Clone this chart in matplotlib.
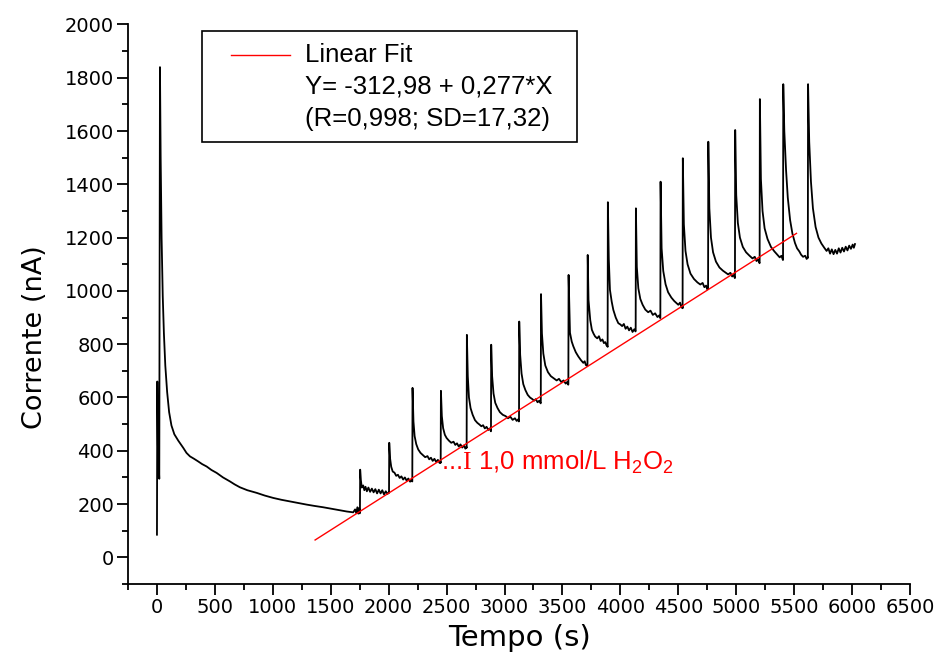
import numpy as np
import matplotlib
matplotlib.use("Agg")
import matplotlib.pyplot as plt
from matplotlib.ticker import MultipleLocator
from matplotlib.lines import Line2D
from matplotlib.patches import Rectangle

plt.rcParams['mathtext.fontset'] = 'custom'
plt.rcParams['mathtext.rm'] = 'Liberation Serif'
plt.rcParams['mathtext.default'] = 'regular'

# ---- chronoamperometric trace ----
time_s = [
    # initial transient and background decay
    0, 3, 8, 20, 26, 32, 40, 50, 60, 72, 88, 105, 125, 150, 184, 227, 255, 285, 320, 356,
    390, 429, 470, 515, 570, 630, 670, 716, 780, 861, 930, 1004, 1075, 1148, 1220, 1292,
    1360, 1435, 1510, 1580, 1640, 1694, 1710, 1720, 1730, 1738, 1745, 1750,
    # addition 1
    1752, 1754, 1760, 1768, 1780, 1790, 1800, 1812, 1825, 1840, 1855, 1870, 1885, 1900,
    1915, 1930, 1945, 1960, 1975, 1990, 2001,
    # addition 2
    2003, 2005, 2012, 2022, 2035, 2050, 2065, 2080, 2095, 2110, 2125, 2140, 2155, 2170,
    2185, 2200, 2203,
    # addition 3
    2204, 2206, 2214, 2224, 2238, 2255, 2275, 2295, 2315, 2335, 2350, 2365, 2380, 2395,
    2410, 2425, 2440, 2448,
    # addition 4
    2449, 2451, 2459, 2470, 2485, 2500, 2520, 2540, 2560, 2575, 2590, 2605, 2620, 2635,
    2650, 2662, 2672,
    # addition 5
    2673, 2675, 2683, 2693, 2707, 2725, 2745, 2765, 2785, 2800, 2815, 2830, 2845, 2860,
    2872, 2882,
    # addition 6
    2883, 2885, 2893, 2905, 2920, 2940, 2960, 2985, 3010, 3030, 3050, 3070, 3090, 3105,
    3118, 3124,
    # addition 7
    3125, 3127, 3135, 3147, 3162, 3180, 3200, 3220, 3240, 3255, 3270, 3285, 3300, 3312,
    # addition 8
    3313, 3315, 3323, 3335, 3352, 3375, 3400, 3425, 3450, 3470, 3490, 3510, 3528, 3540, 3550,
    # addition 9
    3551, 3553, 3565, 3580, 3594, 3615, 3637, 3660, 3680, 3692, 3702, 3715,
    # addition 10
    3716, 3718, 3725, 3740, 3754, 3768, 3782, 3800, 3815, 3830, 3845, 3858, 3870, 3880, 3889,
    # addition 11
    3890, 3892, 3900, 3910, 3925, 3939, 3960, 3982, 4000, 4015, 4030, 4045, 4060, 4075,
    4090, 4105, 4120, 4131,
    # addition 12
    4132, 4134, 4142, 4155, 4172, 4192, 4215, 4240, 4260, 4280, 4300, 4320, 4335, 4344,
    # addition 13
    4345, 4347, 4356, 4370, 4390, 4412, 4440, 4465, 4485, 4500, 4515, 4527, 4536,
    # addition 14
    4537, 4539, 4548, 4562, 4580, 4605, 4635, 4665, 4690, 4710, 4725, 4740, 4750, 4756,
    # addition 15
    4757, 4759, 4768, 4782, 4800, 4825, 4855, 4885, 4910, 4930, 4950, 4965, 4978, 4988,
    # addition 16
    4989, 4991, 5000, 5014, 5032, 5057, 5085, 5115, 5140, 5160, 5175, 5190, 5201,
    # addition 17
    5202, 5204, 5213, 5227, 5245, 5270, 5300, 5330, 5355, 5375, 5390, 5403,
    # addition 18
    5404, 5406, 5415, 5430, 5445, 5465, 5485, 5507, 5525, 5545, 5560, 5577, 5595, 5608, 5617,
    # addition 19 and tail
    5618, 5620, 5630, 5645, 5662, 5685, 5710, 5735, 5760, 5780, 5795, 5810, 5825, 5840,
    5855, 5870, 5885, 5900, 5915, 5930, 5945, 5960, 5975, 5990, 6005, 6015, 6025,
]
current_nA = [
    # initial transient and background decay
    85, 660, 420, 295, 1840, 1500, 1200, 980, 840, 720, 620, 545, 495, 462, 438, 411, 392, 379, 370, 360,
    350, 341, 328, 317, 300, 285, 274, 263, 252, 242, 232, 223, 216, 210, 204, 198,
    193, 188, 182, 176, 172, 169, 180, 166, 188, 164, 185, 165,
    # addition 1
    172, 329, 290, 262, 270, 252, 265, 248, 262, 246, 258, 244, 256, 240,
    254, 240, 252, 236, 248, 238, 244,
    # addition 2
    242, 430, 372, 340, 322, 318, 306, 310, 298, 304, 292, 300, 288, 296,
    284, 290, 285,
    # addition 3
    285, 636, 510, 455, 425, 405, 392, 384, 376, 380, 368, 374, 362, 370,
    358, 366, 354, 358,
    # addition 4
    355, 625, 530, 485, 460, 448, 438, 430, 434, 422, 428, 416, 424, 412,
    420, 408, 414,
    # addition 5
    411, 835, 680, 600, 560, 535, 515, 505, 498, 492, 496, 484, 490, 478,
    484, 474,
    # addition 6
    473, 798, 680, 615, 580, 560, 545, 535, 530, 522, 528, 516, 522, 512,
    518, 510,
    # addition 7
    512, 885, 760, 690, 650, 628, 610, 600, 594, 588, 594, 582, 588, 578,
    # addition 8
    580, 988, 840, 765, 720, 695, 680, 672, 664, 670, 658, 664, 652, 658, 648,
    # addition 9
    650, 1060, 843, 810, 792, 770, 754, 740, 730, 736, 722, 718,
    # addition 10
    720, 1135, 966, 890, 854, 840, 829, 822, 830, 812, 818, 804, 808, 796, 792,
    # addition 11
    790, 1333, 1120, 1004, 960, 929, 900, 879, 874, 868, 876, 858, 866, 852,
    862, 846, 856, 848,
    # addition 12
    850, 1310, 1090, 1010, 970, 948, 930, 920, 926, 910, 916, 902, 908, 898,
    # addition 13
    900, 1410, 1160, 1075, 1025, 995, 975, 962, 954, 948, 956, 938, 942,
    # addition 14
    935, 1498, 1250, 1150, 1100, 1065, 1045, 1032, 1024, 1030, 1014, 1020, 1006, 1010,
    # addition 15
    1008, 1560, 1310, 1200, 1145, 1110, 1088, 1076, 1068, 1062, 1068, 1054, 1060, 1048,
    # addition 16
    1050, 1604, 1360, 1255, 1200, 1165, 1145, 1132, 1122, 1128, 1112, 1118, 1104,
    # addition 17
    1105, 1720, 1420, 1300, 1235, 1195, 1165, 1148, 1136, 1126, 1132, 1116,
    # addition 18
    1117, 1776, 1600, 1454, 1350, 1266, 1215, 1180, 1160, 1148, 1136, 1128, 1132, 1120, 1126,
    # addition 19 and tail
    1124, 1776, 1560, 1410, 1310, 1240, 1200, 1178, 1162, 1150, 1160, 1140, 1156, 1138,
    1154, 1140, 1160, 1144, 1162, 1148, 1166, 1152, 1170, 1158, 1174, 1162, 1176,
]

# ---- linear fit shown in the legend ----
fit_intercept = -312.98
fit_slope = 0.277
fit_x_range = [1365, 5520]

legend_lines = ["Linear Fit", "Y= -312,98 + 0,277*X", "(R=0,998; SD=17,32)"]
note_text = r"...$\mathrm{I}$ 1,0 mmol/L H$_2$O$_2$"
note_xy = (2455, 330)

x_ticks = list(range(0, 6501, 500))
y_ticks = list(range(0, 2001, 200))

fig = plt.figure(figsize=(9.37, 6.55), dpi=100)
ax = fig.add_axes([0.1366, 0.1084, 0.8346, 0.8542])

ax.plot(time_s, current_nA, color='black', lw=1.3)
fx = np.array(fit_x_range, dtype=float)
ax.plot(fx, fit_intercept + fit_slope * fx, color='red', lw=1.0)

ax.set_xlim(-250, 6500)
ax.set_ylim(-100, 2000)
ax.set_xticks(x_ticks)
ax.set_yticks(y_ticks)
ax.xaxis.set_minor_locator(MultipleLocator(250))
ax.yaxis.set_minor_locator(MultipleLocator(100))
for s in ['top', 'right']:
    ax.spines[s].set_visible(False)
for s in ['left', 'bottom']:
    ax.spines[s].set_linewidth(1.3)
ax.tick_params(which='major', direction='out', length=8, width=1.3, labelsize=14, pad=2)
ax.tick_params(which='minor', direction='out', length=4.5, width=1.3)

ax.set_xlabel("Tempo (s)", fontsize=21)
ax.set_ylabel("Corrente (nA)", fontsize=19.5)
ax.xaxis.set_label_coords(0.5, -0.072)
ax.yaxis.set_label_coords(-0.102, 0.4415)

# legend box drawn like the original
ax.add_patch(Rectangle((0.0946, 0.790), 0.4795, 0.198, transform=ax.transAxes,
                       facecolor='white', edgecolor='black', lw=1.2, zorder=5))
ax.add_line(Line2D([0.1317, 0.207], [0.9455, 0.9455], transform=ax.transAxes,
                   color='red', lw=1.0, zorder=6))
for k, line in enumerate(legend_lines):
    ax.text(0.2263, 0.9455 - k * 0.057, line, transform=ax.transAxes,
            family='Liberation Sans', fontsize=18.5, va='center', ha='left', zorder=6)

ax.text(note_xy[0], note_xy[1], note_text, color='red', family='Liberation Sans',
        fontsize=18.5, ha='left', va='baseline')

fig.savefig("out.png", dpi=100)
